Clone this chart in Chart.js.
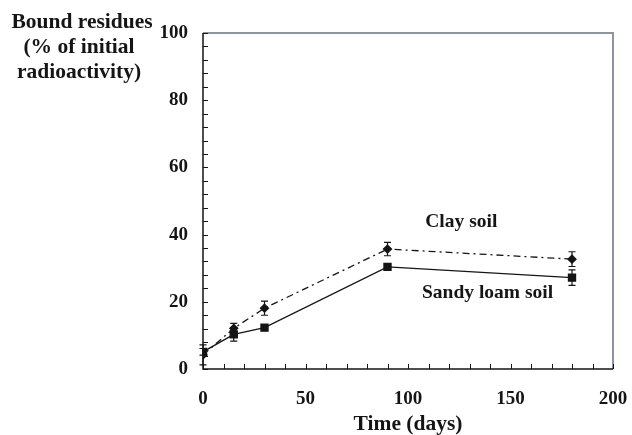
<!DOCTYPE html>
<html>
<head>
<meta charset="utf-8">
<script src="https://cdn.jsdelivr.net/npm/chart.js@4"></script>
<style>
  html, body { margin: 0; padding: 0; background: #fff; }
  #wrap { width: 632px; height: 435px; }
</style>
</head>
<body>
<div id="wrap"><canvas id="soilChart" width="632" height="435"></canvas></div>
<script>
const days = [0, 15, 30, 90, 180];
const sandyLoam = [5.1, 10.3, 12.3, 30.4, 27.2];
const sandyLoamErr = [1.0, 2.0, 0.8, 0.5, 2.3];
const clay = [4.2, 12.1, 18.1, 35.7, 32.7];
const clayErr = [3.0, 1.5, 2.1, 2.0, 2.2];
const xTicks = [0, 50, 100, 150, 200];
const yTicks = [0, 20, 40, 60, 80, 100];

const serif = '"Liberation Serif", "Times New Roman", serif';
const ink = '#151515';

// error bars, inward ticks, frame and text labels
const extras = {
    id: 'extras',
    beforeDatasetsDraw(chart) {
        const { ctx, chartArea: a, scales: { x, y } } = chart;
        ctx.save();
        // frame: top/right gray, left/bottom black
        ctx.strokeStyle = '#8d969d';
        ctx.lineWidth = 2;
        ctx.beginPath();
        ctx.moveTo(a.left, a.top);
        ctx.lineTo(a.right, a.top);
        ctx.lineTo(a.right, a.bottom);
        ctx.stroke();
        ctx.strokeStyle = ink;
        ctx.lineWidth = 1.5;
        ctx.beginPath();
        ctx.moveTo(a.left, a.top);
        ctx.lineTo(a.left, a.bottom);
        ctx.lineTo(a.right, a.bottom);
        ctx.stroke();
        // minor ticks pointing inward
        ctx.lineWidth = 1;
        ctx.beginPath();
        for (let v = 0; v <= 200; v += 10) {
            const px = Math.round(x.getPixelForValue(v)) + 0.5;
            ctx.moveTo(px, a.bottom);
            ctx.lineTo(px, a.bottom - 5);
        }
        for (let v = 0; v <= 100; v += 4) {
            const py = Math.round(y.getPixelForValue(v)) + 0.5;
            ctx.moveTo(a.left, py);
            ctx.lineTo(a.left + 5, py);
        }
        ctx.stroke();
        ctx.restore();
    },
    afterDatasetsDraw(chart) {
        const { ctx, scales: { x, y } } = chart;
        ctx.save();
        ctx.strokeStyle = ink;
        ctx.lineWidth = 1.2;
        const drawErr = (vals, errs) => {
            vals.forEach((v, i) => {
                const px = x.getPixelForValue(days[i]);
                const top = y.getPixelForValue(v + errs[i]);
                const bot = y.getPixelForValue(v - errs[i]);
                ctx.beginPath();
                ctx.moveTo(px, top); ctx.lineTo(px, bot);
                ctx.moveTo(px - 3.5, top); ctx.lineTo(px + 3.5, top);
                ctx.moveTo(px - 3.5, bot); ctx.lineTo(px + 3.5, bot);
                ctx.stroke();
            });
        };
        drawErr(sandyLoam, sandyLoamErr);
        drawErr(clay, clayErr);

        ctx.fillStyle = ink;
        ctx.font = 'bold 19.5px ' + serif;
        ctx.textAlign = 'center';
        ctx.textBaseline = 'middle';
        ctx.fillText('Clay soil', x.getPixelForValue(126), y.getPixelForValue(43.8));
        ctx.fillText('Sandy loam soil', x.getPixelForValue(138.8), y.getPixelForValue(22.6));

        // y axis title at top left
        ctx.font = 'bold 21.5px ' + serif;
        ctx.fillText('Bound residues', 82, 22);
        ctx.fillText('(% of initial', 79, 47);
        ctx.fillText('radioactivity)', 79, 72);
        ctx.restore();
    }
};

new Chart(document.getElementById('soilChart'), {
    type: 'line',
    data: {
        datasets: [
            {
                label: 'Sandy loam soil',
                data: days.map((d, i) => ({ x: d, y: sandyLoam[i] })),
                borderColor: ink,
                backgroundColor: ink,
                borderWidth: 1.3,
                pointStyle: 'rect',
                pointRadius: 5,
                pointHoverRadius: 5,
                tension: 0
            },
            {
                label: 'Clay soil',
                data: days.map((d, i) => ({ x: d, y: clay[i] })),
                borderColor: ink,
                backgroundColor: ink,
                borderWidth: 1.3,
                borderDash: [7, 4, 2, 4],
                pointStyle: 'rectRot',
                pointRadius: 4,
                pointHoverRadius: 4,
                tension: 0
            }
        ]
    },
    options: {
        responsive: false,
        animation: false,
        events: [],
        layout: { padding: { top: 33, right: 19, bottom: 0, left: 0 } },
        plugins: { legend: { display: false }, tooltip: { enabled: false } },
        scales: {
            x: {
                type: 'linear',
                min: 0,
                max: 200,
                afterBuildTicks: s => { s.ticks = xTicks.map(v => ({ value: v })); },
                afterFit: s => { s.height = 66; s.paddingLeft = 0; s.paddingRight = 0; },
                grid: { display: false, drawTicks: false },
                border: { display: false },
                ticks: {
                    color: ink,
                    padding: 19,
                    maxRotation: 0,
                    font: { family: serif, size: 19, weight: 'bold' }
                },
                title: {
                    display: true,
                    text: 'Time (days)',
                    color: ink,
                    padding: 0,
                    font: { family: serif, size: 21.5, weight: 'bold', lineHeight: 1.0 }
                }
            },
            y: {
                min: 0,
                max: 100,
                afterBuildTicks: s => { s.ticks = yTicks.map(v => ({ value: v })); },
                afterFit: s => { s.width = 203; },
                grid: { display: false, drawTicks: false },
                border: { display: false },
                ticks: {
                    color: ink,
                    padding: 15,
                    font: { family: serif, size: 19, weight: 'bold' }
                }
            }
        }
    },
    plugins: [extras]
});
</script>
</body>
</html>
